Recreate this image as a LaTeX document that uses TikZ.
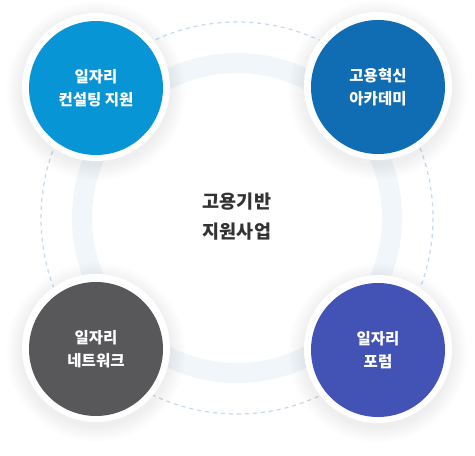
\documentclass[tikz,border=0pt]{standalone}
\usepackage{fontspec}
\setmainfont{Noto Sans CJK KR}
\newfontfamily\kmed{Noto Sans CJK KR Medium}
\definecolor{cA}{HTML}{0795D6}
\definecolor{cB}{HTML}{106DB3}
\definecolor{cC}{HTML}{58585A}
\definecolor{cD}{HTML}{4353B5}
\definecolor{band}{HTML}{F1F6FA}
\definecolor{dashc}{HTML}{C5DAEC}
\definecolor{textdark}{HTML}{333333}
\tikzset{
  bubble/.style={circle, minimum size=134pt, inner sep=0pt, text=white, align=center,
    font=\bfseries\fontsize{15.5}{23.5}\selectfont},
  ringband/.style={draw=band, line width=20pt},
  dashline/.style={draw=dashc, line width=1.2pt, dash pattern=on 4pt off 4pt},
}
\newcommand{\bubbleback}[1]{%
  \foreach \i in {1,...,16} {\fill[black, opacity=0.0045] ($(#1)+(0,4)$) circle[radius=74+\i];}
  \fill[white] (#1) circle[radius=74];
}
\usetikzlibrary{calc}
\begin{document}
\begin{tikzpicture}[x=1pt,y=-1pt]
\useasboundingbox (0,0) rectangle (475,456);
\fill[white] (0,0) rectangle (475,456);
\coordinate (c) at (237,218);
\draw[ringband] (c) circle[radius=155];
\draw[dashline] (c) circle[radius=196];
\coordinate (pA) at (96,87);
\coordinate (pB) at (378,86);
\coordinate (pC) at (96,348);
\coordinate (pD) at (378,349);
\bubbleback{pA}
\bubbleback{pB}
\bubbleback{pC}
\bubbleback{pD}
\node[bubble, fill=cA] (nA) at (96,88) {일자리\\컨설팅 지원};
\node[bubble, fill=cB] (nB) at (378,87) {고용혁신\\아카데미};
\node[bubble, fill=cC] (nC) at (96,349) {일자리\\네트워크};
\node[bubble, fill=cD] (nD) at (378,350) {일자리\\포럼};
\node[text=textdark, align=center, font=\bfseries\fontsize{18.5}{30}\selectfont] (center) at (237,217) {고용기반\\지원사업};
\end{tikzpicture}
\end{document}
